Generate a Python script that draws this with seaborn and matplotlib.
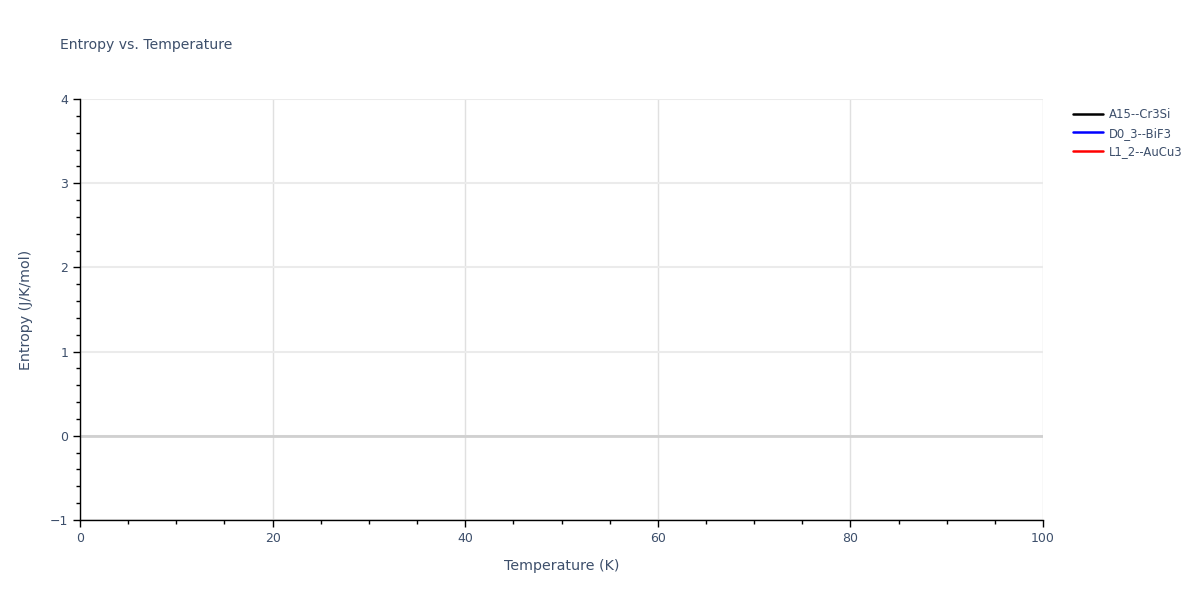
import matplotlib
matplotlib.use('Agg')
import matplotlib.pyplot as plt
import seaborn as sns
import pandas as pd
from matplotlib.ticker import MultipleLocator

# Data: the series carry no visible points in the reference
series_names = ['A15--Cr3Si', 'D0_3--BiF3', 'L1_2--AuCu3']
series_colors = ['black', 'blue', 'red']
temperature = []
entropy = []

x_limits = (0, 100)
y_limits = (-1, 4)

sns.set_style('white')
plt.rcParams['font.family'] = ['DejaVu Sans']
text_color = '#3d4f6b'

fig = plt.figure(figsize=(12, 6), dpi=100)
ax = fig.add_axes([80 / 1200, 80 / 600, (1043 - 80) / 1200, (520 - 99) / 600])

for name, color in zip(series_names, series_colors):
    df = pd.DataFrame({'T': pd.Series(temperature, dtype=float),
                       'S': pd.Series(entropy, dtype=float)})
    ax.plot(df['T'], df['S'], color=color, lw=1.8, label=name)

ax.set_xlim(*x_limits)
ax.set_ylim(*y_limits)
ax.xaxis.set_major_locator(MultipleLocator(20))
ax.xaxis.set_minor_locator(MultipleLocator(5))
ax.yaxis.set_major_locator(MultipleLocator(1))
ax.yaxis.set_minor_locator(MultipleLocator(0.2))

ax.grid(True, which='major', axis='x', color='#e0e0e0', lw=1)
ax.grid(True, which='major', axis='y', color='#ebebeb', lw=1.5)
ax.axhline(0, color='#d0d0d0', lw=2, zorder=1)
ax.set_axisbelow(True)

for side in ['top', 'right']:
    ax.spines[side].set_visible(False)
for side in ['left', 'bottom']:
    ax.spines[side].set_color('black')
    ax.spines[side].set_linewidth(1)

ax.tick_params(which='major', direction='out', length=5, width=1, color='black',
               labelsize=9, labelcolor=text_color, left=True, bottom=True)
ax.tick_params(which='minor', direction='out', length=3, width=1, color='black',
               left=True, bottom=True)
ax.set_yticklabels(['\u22121' if t == -1 else f'{int(t)}' for t in ax.get_yticks()])

ax.set_xlabel('Temperature (K)', fontsize=10.3, color=text_color, labelpad=10)
ax.set_ylabel('Entropy (J/K/mol)', fontsize=10.3, color=text_color, labelpad=12)

fig.text(60 / 1200, 1 - 45 / 600, 'Entropy vs. Temperature', fontsize=10.1,
         color=text_color, va='center', ha='left')

leg = ax.legend(loc='upper left', bbox_to_anchor=(1.022, 1.0), frameon=False,
                fontsize=8.4, handlelength=2.6, handletextpad=0.5,
                labelcolor=text_color, borderaxespad=0.35, labelspacing=0.5)

fig.savefig('out.png', dpi=100)
